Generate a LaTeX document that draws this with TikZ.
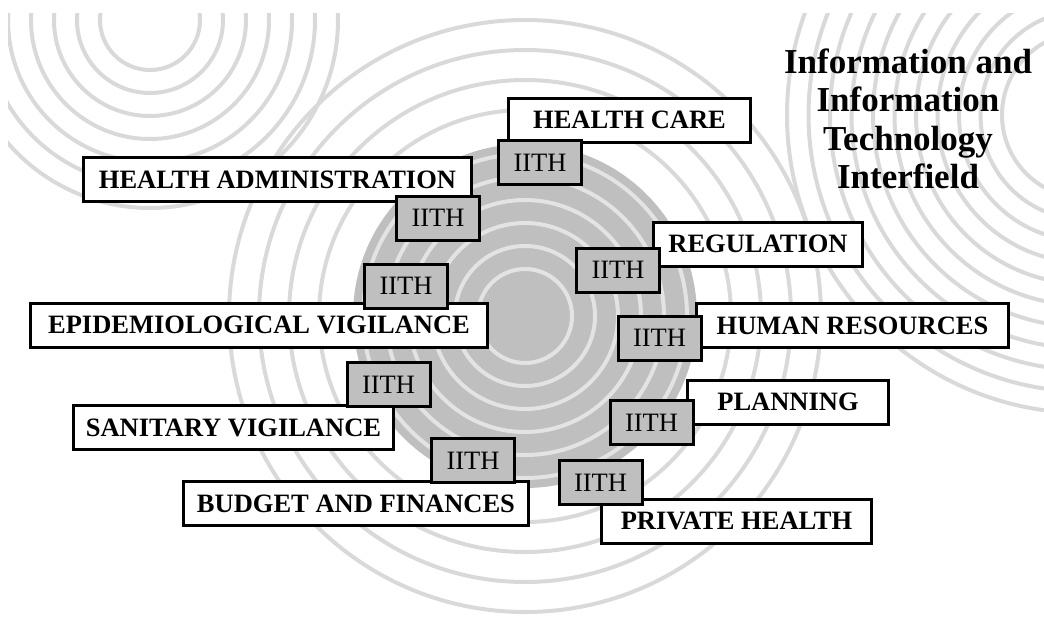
\documentclass[tikz,border=0pt]{standalone}
\usepackage{fontspec}
\setmainfont{Liberation Serif}
\usepackage{tikz}

\definecolor{ringgray}{gray}{0.85}
\definecolor{diskgray}{gray}{0.75}
\definecolor{diskring}{gray}{0.89}

\begin{document}
\begin{tikzpicture}
      [ x=1pt, y=-1pt,
        area/.style={draw, line width=3pt, fill=white, inner sep=0pt,
          minimum height=44pt, font=\fontsize{26.5}{30}\selectfont\bfseries},
        iith/.style={draw, line width=3pt, fill=diskgray, inner sep=0pt,
          minimum width=83pt, minimum height=44pt,
          font=\fontsize{26.5}{30}\selectfont},
        ring/.style={draw=ringgray, line width=4pt}
      ]
      \useasboundingbox (0,0) rectangle (1044,616);

      % ripples in the background
      \begin{scope}
        \clip (8,13) rectangle (1044,616);
        \foreach \r in {50,73,...,189}
          \draw[ring] (150,20) circle [radius=\r pt];
        \foreach \r in {83,104.5,...,300}
          \draw[ring] (1085,115) circle [radius=\r pt];
        \foreach \r in {206,236,266,296}
          \draw[ring] (525,316) circle [radius=\r pt];
        \fill[diskgray] (525,316) circle [radius=172pt];
        \foreach \r in {47,70,...,162}
          \draw[ring, draw=diskring] (525,316) circle [radius=\r pt];
      \end{scope}

      \node[area, minimum width=242pt] (care)   at (629.5,120)   {HEALTH CARE};
      \node[area, minimum width=388pt] (admin)  at (277.5,179.5) {HEALTH ADMINISTRATION};
      \node[area, minimum width=209pt] (reg)    at (758,244)     {REGULATION};
      \node[area, minimum width=457pt] (epi)    at (259,325)     {EPIDEMIOLOGICAL VIGILANCE};
      \node[area, minimum width=312pt] (hr)     at (852.5,325.5) {HUMAN RESOURCES};
      \node[area, minimum width=201pt] (plan)   at (788,402)     {PLANNING};
      \node[area, minimum width=270pt] (priv)   at (736.5,521)   {PRIVATE HEALTH};
      \node[area, minimum width=320pt] (sanit)  at (233.5,427.5) {SANITARY VIGILANCE};
      \node[area, minimum width=345pt] (budget) at (356,503.5)   {BUDGET AND FINANCES};

      \node[iith] (care-it)   at (540,162.5)   {IITH};
      \node[iith] (admin-it)  at (438,218)     {IITH};
      \node[iith] (reg-it)    at (618,270)     {IITH};
      \node[iith] (epi-it)    at (406,286)     {IITH};
      \node[iith] (hr-it)     at (659.5,338)   {IITH};
      \node[iith] (plan-it)   at (651.5,422.5) {IITH};
      \node[iith] (priv-it)   at (600.5,482.5) {IITH};
      \node[iith] (sanit-it)  at (388.5,384.5) {IITH};
      \node[iith] (budget-it) at (473,460.5)   {IITH};

      \node[align=center, font=\fontsize{35}{38.5}\selectfont\bfseries]
        (title) at (908,119) {Information and\\Information\\Technology\\Interfield};
\end{tikzpicture}
\end{document}
